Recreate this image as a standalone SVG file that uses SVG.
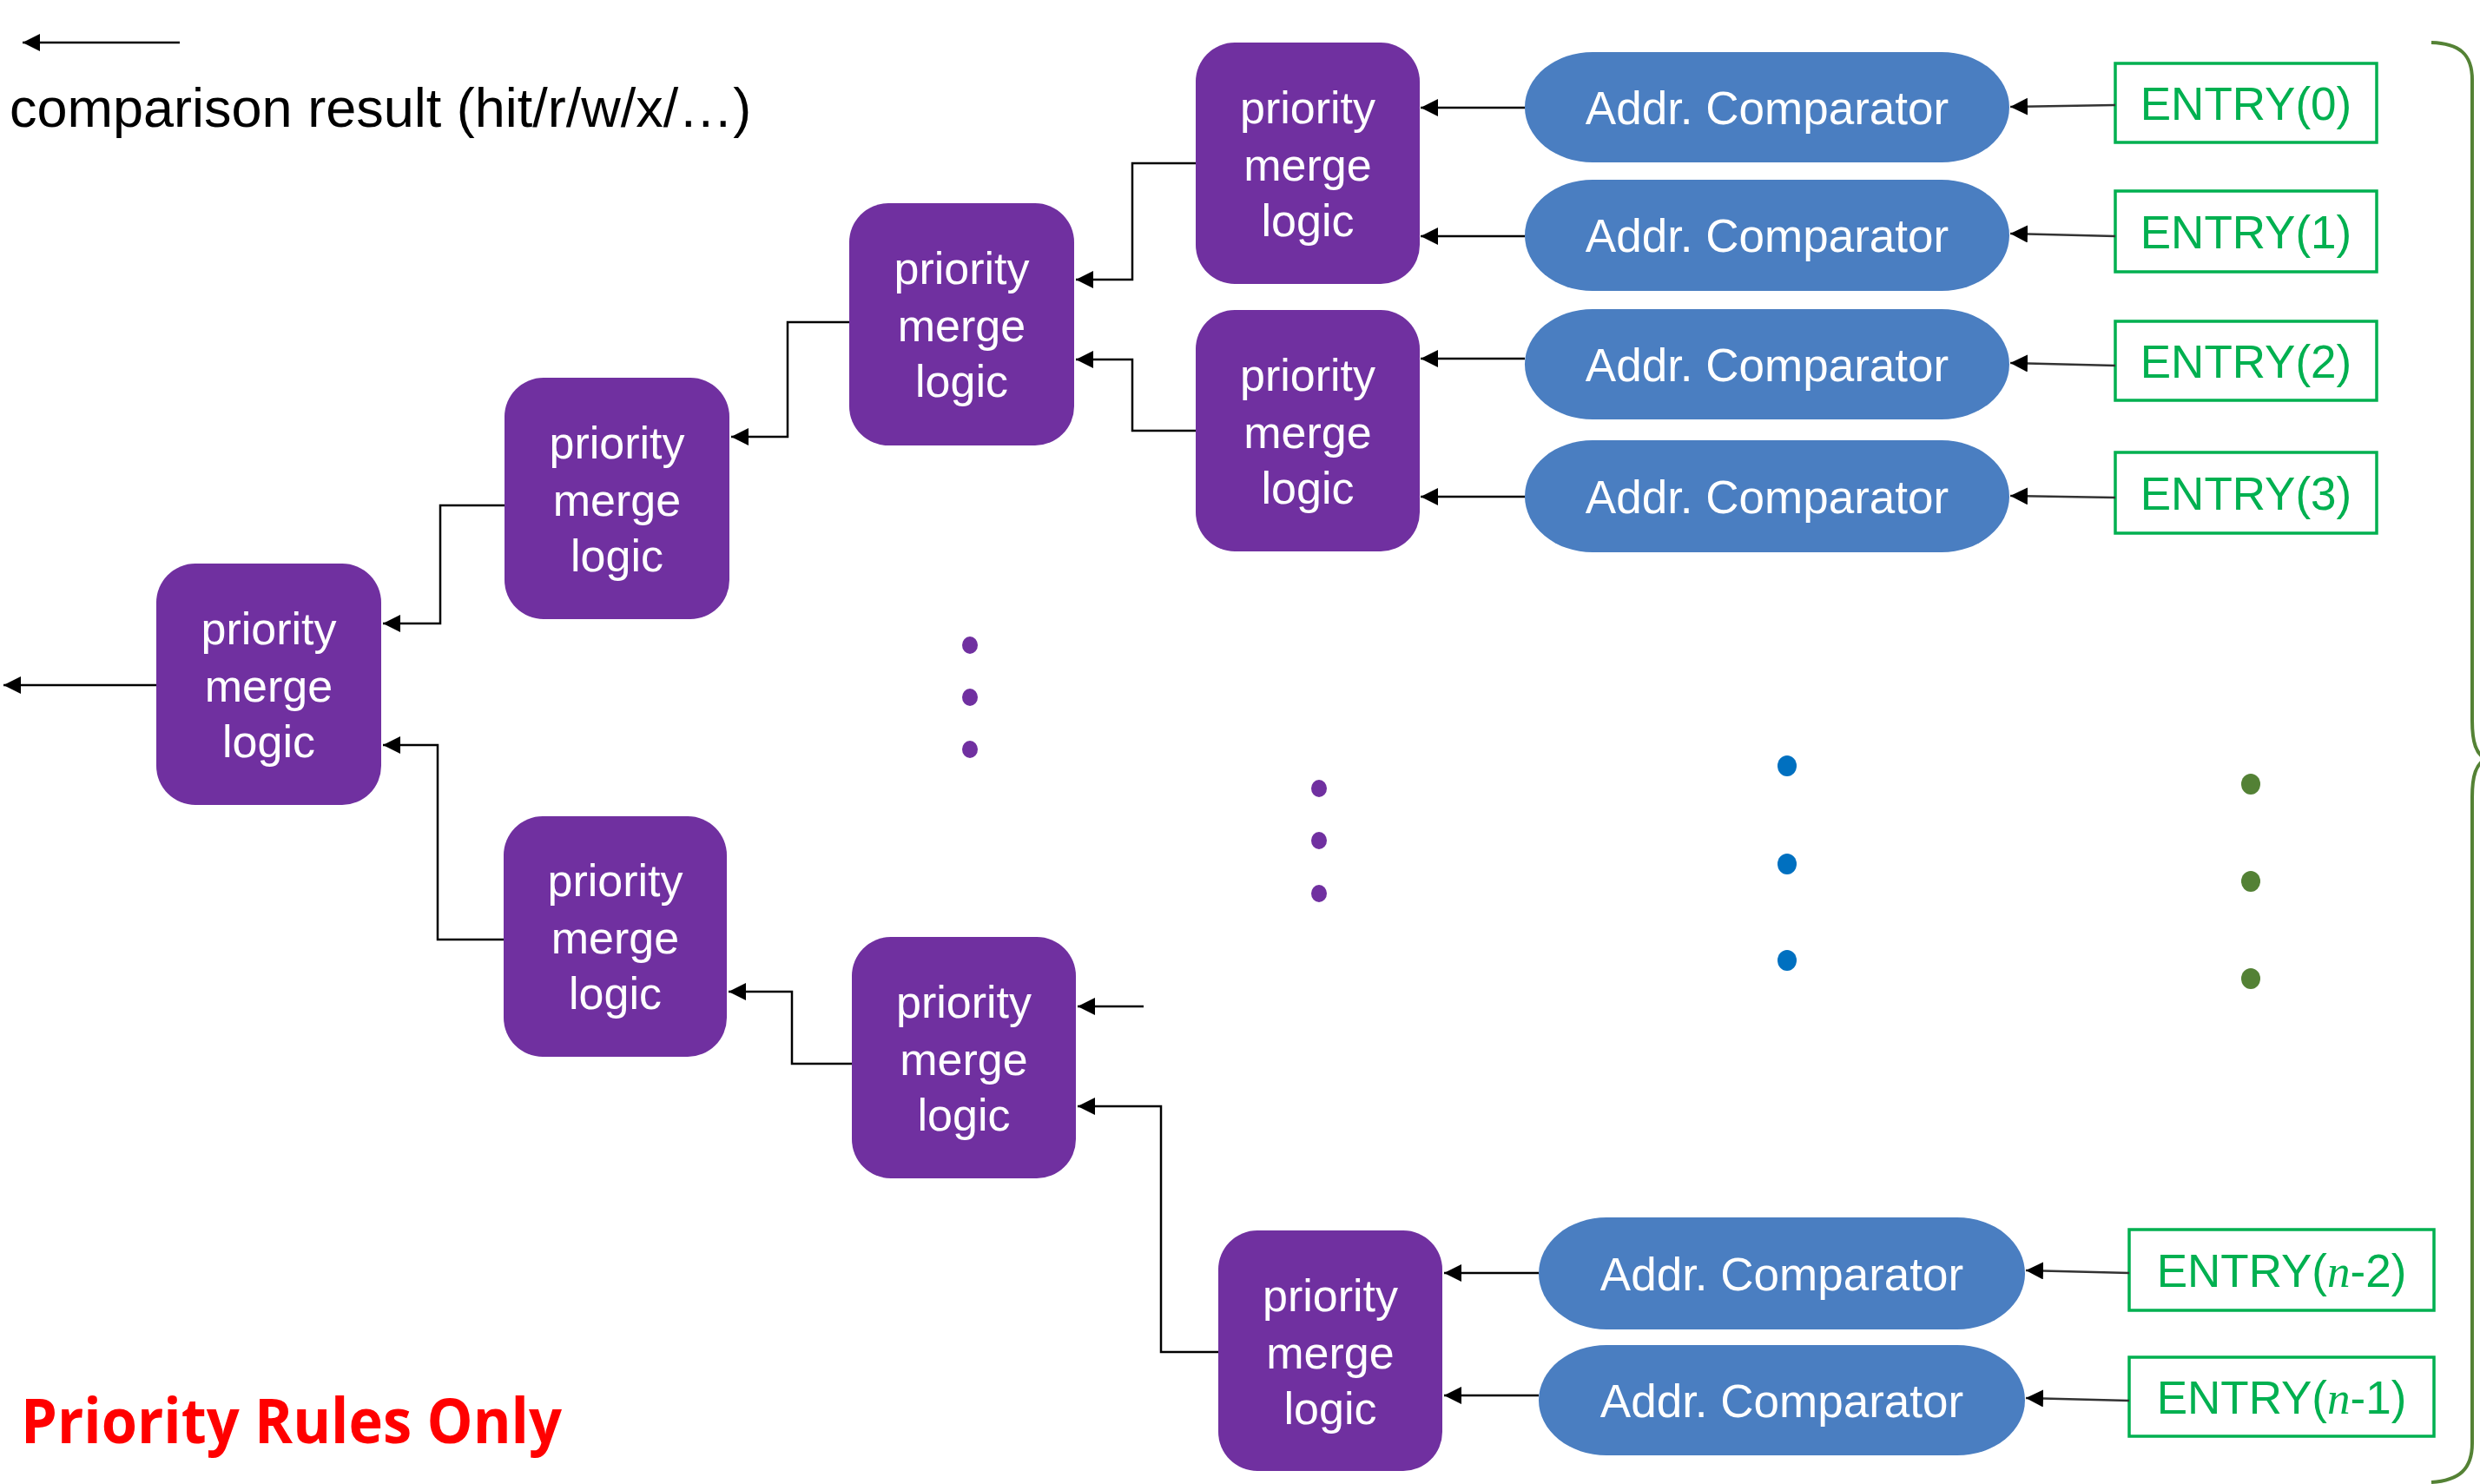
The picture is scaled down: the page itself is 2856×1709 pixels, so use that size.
<svg xmlns="http://www.w3.org/2000/svg" width="2856" height="1709" viewBox="0 0 2856 1709">
  <defs>
    <marker id="arrow" markerUnits="userSpaceOnUse" markerWidth="22" markerHeight="22" refX="20" refY="10" orient="auto">
      <path d="M0,0 L20,10 L0,20 z" fill="#000"/>
    </marker>
    <style>
      .pml { fill: #7030A0; }
      .pml-text { font-family: "Liberation Sans", Arial, sans-serif; font-size: 52px; fill: #fff; text-anchor: middle; }
      .cmp { fill: #4A7EC1; }
      .cmp-text { font-family: "Liberation Sans", Arial, sans-serif; font-size: 53px; fill: #fff; text-anchor: middle; }
      .entry { fill: #fff; stroke: #00B050; stroke-width: 3.5; }
      .entry-text { font-family: "Liberation Sans", Arial, sans-serif; font-size: 53px; fill: #00B050; text-anchor: middle; }
      .var { font-family: "Liberation Serif", "Times New Roman", serif; font-style: italic; }
      .wire { fill: none; stroke: #000; stroke-width: 2.5; marker-end: url(#arrow); }
      .feed { fill: none; stroke: #333; stroke-width: 2.5; marker-end: url(#arrow); }
    </style>
  </defs>

  <rect width="2856" height="1709" fill="#fff"/>

  <!-- legend -->
  <g id="legend">
    <path class="wire" d="M207,49 H26"/>
    <text x="11" y="146" font-family="'Liberation Sans', Arial, sans-serif" font-size="63" fill="#000">comparison result (hit/r/w/x/…)</text>
  </g>

  <!-- priority merge tree -->
  <g id="pml-root">
    <rect class="pml" x="180" y="649" width="259" height="278" rx="45" ry="45"/>
    <text class="pml-text" x="309.5"><tspan y="742">priority</tspan><tspan x="309.5" y="808">merge</tspan><tspan x="309.5" y="872">logic</tspan></text>
  </g>
  <g id="pml-1a">
    <rect class="pml" x="581" y="435" width="259" height="278" rx="45" ry="45"/>
    <text class="pml-text" x="710.5"><tspan y="528">priority</tspan><tspan x="710.5" y="594">merge</tspan><tspan x="710.5" y="658">logic</tspan></text>
  </g>
  <g id="pml-1b">
    <rect class="pml" x="580" y="940" width="257" height="277" rx="45" ry="45"/>
    <text class="pml-text" x="708.5"><tspan y="1032">priority</tspan><tspan x="708.5" y="1098">merge</tspan><tspan x="708.5" y="1162">logic</tspan></text>
  </g>
  <g id="pml-2a">
    <rect class="pml" x="978" y="234" width="259" height="279" rx="45" ry="45"/>
    <text class="pml-text" x="1107.5"><tspan y="327">priority</tspan><tspan x="1107.5" y="393">merge</tspan><tspan x="1107.5" y="457">logic</tspan></text>
  </g>
  <g id="pml-2b">
    <rect class="pml" x="981" y="1079" width="258" height="278" rx="45" ry="45"/>
    <text class="pml-text" x="1110"><tspan y="1172">priority</tspan><tspan x="1110" y="1238">merge</tspan><tspan x="1110" y="1302">logic</tspan></text>
  </g>
  <g id="pml-3a">
    <rect class="pml" x="1377" y="49" width="258" height="278" rx="45" ry="45"/>
    <text class="pml-text" x="1506"><tspan y="142">priority</tspan><tspan x="1506" y="208">merge</tspan><tspan x="1506" y="272">logic</tspan></text>
  </g>
  <g id="pml-3b">
    <rect class="pml" x="1377" y="357" width="258" height="278" rx="45" ry="45"/>
    <text class="pml-text" x="1506"><tspan y="450">priority</tspan><tspan x="1506" y="516">merge</tspan><tspan x="1506" y="580">logic</tspan></text>
  </g>
  <g id="pml-3c">
    <rect class="pml" x="1403" y="1417" width="258" height="277" rx="45" ry="45"/>
    <text class="pml-text" x="1532"><tspan y="1510">priority</tspan><tspan x="1532" y="1576">merge</tspan><tspan x="1532" y="1640">logic</tspan></text>
  </g>

  <!-- address comparators -->
  <g id="cmp-0">
    <rect class="cmp" x="1756" y="60" width="558" height="127" rx="78" ry="63.5"/>
    <text class="cmp-text" x="2035" y="143">Addr. Comparator</text>
  </g>
  <g id="cmp-1">
    <rect class="cmp" x="1756" y="207" width="558" height="128" rx="78" ry="64"/>
    <text class="cmp-text" x="2035" y="290">Addr. Comparator</text>
  </g>
  <g id="cmp-2">
    <rect class="cmp" x="1756" y="356" width="558" height="127" rx="78" ry="63.5"/>
    <text class="cmp-text" x="2035" y="439">Addr. Comparator</text>
  </g>
  <g id="cmp-3">
    <rect class="cmp" x="1756" y="507" width="558" height="129" rx="78" ry="64.5"/>
    <text class="cmp-text" x="2035" y="591">Addr. Comparator</text>
  </g>
  <g id="cmp-n2">
    <rect class="cmp" x="1772" y="1402" width="560" height="129" rx="78" ry="64.5"/>
    <text class="cmp-text" x="2052" y="1486">Addr. Comparator</text>
  </g>
  <g id="cmp-n1">
    <rect class="cmp" x="1772" y="1549" width="560" height="127" rx="78" ry="63.5"/>
    <text class="cmp-text" x="2052" y="1632">Addr. Comparator</text>
  </g>

  <!-- TLB entries -->
  <g id="entry-0">
    <rect class="entry" x="2436" y="73" width="301" height="91"/>
    <text class="entry-text" x="2586.5" y="138">ENTRY(0)</text>
  </g>
  <g id="entry-1">
    <rect class="entry" x="2436" y="220" width="301" height="93"/>
    <text class="entry-text" x="2586.5" y="286">ENTRY(1)</text>
  </g>
  <g id="entry-2">
    <rect class="entry" x="2436" y="370" width="301" height="91"/>
    <text class="entry-text" x="2586.5" y="435">ENTRY(2)</text>
  </g>
  <g id="entry-3">
    <rect class="entry" x="2436" y="521" width="301" height="93"/>
    <text class="entry-text" x="2586.5" y="587">ENTRY(3)</text>
  </g>
  <g id="entry-n2">
    <rect class="entry" x="2452" y="1416" width="351" height="93"/>
    <text class="entry-text" x="2627.5" y="1482">ENTRY(<tspan class="var">n</tspan>-2)</text>
  </g>
  <g id="entry-n1">
    <rect class="entry" x="2452" y="1563" width="351" height="91"/>
    <text class="entry-text" x="2627.5" y="1628">ENTRY(<tspan class="var">n</tspan>-1)</text>
  </g>

  <!-- connectors -->
  <g id="connectors">
    <path class="wire" d="M180,789 H4"/>
    <path class="wire" d="M581,582 H507 V718 H441"/>
    <path class="wire" d="M580,1082 H504 V858 H441"/>
    <path class="wire" d="M978,371 H907 V503 H842"/>
    <path class="wire" d="M981,1225 H912 V1142 H839"/>
    <path class="wire" d="M1377,188 H1304 V322 H1239"/>
    <path class="wire" d="M1377,496 H1304 V414 H1239"/>
    <path class="wire" d="M1317,1159 H1241"/>
    <path class="wire" d="M1403,1557 H1337 V1274 H1241"/>
    <path class="wire" d="M1756,124 H1636"/>
    <path class="wire" d="M1756,272 H1636"/>
    <path class="wire" d="M1756,413 H1636"/>
    <path class="wire" d="M1756,572 H1636"/>
    <path class="wire" d="M1772,1466 H1663"/>
    <path class="wire" d="M1772,1607 H1663"/>
    <path class="feed" d="M2436,121 L2315,123"/>
    <path class="feed" d="M2436,272 L2315,269"/>
    <path class="feed" d="M2436,421 L2315,418"/>
    <path class="feed" d="M2436,573 L2315,571"/>
    <path class="feed" d="M2452,1466 L2333,1463"/>
    <path class="feed" d="M2452,1613 L2333,1610"/>
  </g>

  <!-- ellipsis dots -->
  <g id="dots">
    <ellipse cx="1117" cy="743" rx="9" ry="10" fill="#7030A0"/>
    <ellipse cx="1117" cy="803" rx="9" ry="10" fill="#7030A0"/>
    <ellipse cx="1117" cy="863" rx="9" ry="10" fill="#7030A0"/>
    <ellipse cx="1519" cy="908" rx="9" ry="10" fill="#7030A0"/>
    <ellipse cx="1519" cy="968" rx="9" ry="10" fill="#7030A0"/>
    <ellipse cx="1519" cy="1029" rx="9" ry="10" fill="#7030A0"/>
    <ellipse cx="2058" cy="882" rx="11" ry="12" fill="#0070C0"/>
    <ellipse cx="2058" cy="995" rx="11" ry="12" fill="#0070C0"/>
    <ellipse cx="2058" cy="1106" rx="11" ry="12" fill="#0070C0"/>
    <ellipse cx="2592" cy="903" rx="11" ry="12" fill="#538135"/>
    <ellipse cx="2592" cy="1015" rx="11" ry="12" fill="#538135"/>
    <ellipse cx="2592" cy="1127" rx="11" ry="12" fill="#538135"/>
  </g>

  <!-- grouping brace -->
  <path id="brace" d="M2800,49 C2832,50 2847,62 2847,92 V830 C2847,856 2852,868 2862,874 C2852,880 2847,892 2847,918 V1662 C2847,1692 2832,1705 2800,1707" fill="none" stroke="#548235" stroke-width="4"/>

  <!-- footnote -->
  <text x="24" y="1662" font-family="'Open Sans', 'Liberation Sans', sans-serif" font-weight="bold" font-size="72" fill="#FF0000" textLength="623" lengthAdjust="spacingAndGlyphs">Priority Rules Only</text>
</svg>
